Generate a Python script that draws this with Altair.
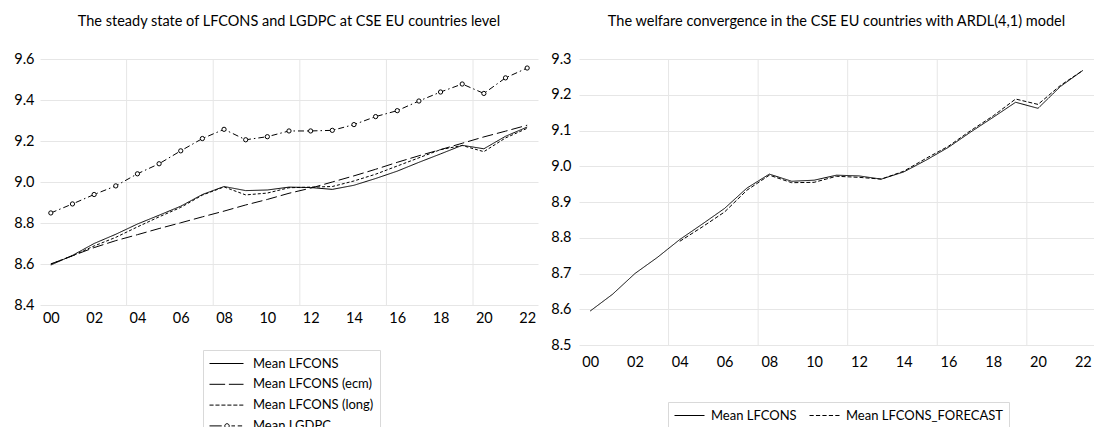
import altair as alt
import pandas as pd

# ---- data -----------------------------------------------------------------
years = list(range(2000, 2023))

mean_lfcons = [8.595, 8.642, 8.700, 8.745, 8.795, 8.838, 8.882, 8.939, 8.978, 8.958,
               8.961, 8.975, 8.973, 8.964, 8.984, 9.017, 9.053, 9.096, 9.137, 9.179,
               9.162, 9.223, 9.268]
mean_lfcons_ecm = [8.600, 8.640, 8.680, 8.714, 8.743, 8.773, 8.801, 8.830, 8.858, 8.888,
                   8.915, 8.945, 8.970, 9.000, 9.030, 9.062, 9.096, 9.128, 9.158, 9.189,
                   9.220, 9.248, 9.277]
mean_lfcons_long = [8.600, 8.640, 8.688, 8.730, 8.781, 8.830, 8.876, 8.936, 8.976, 8.937,
                    8.946, 8.972, 8.975, 8.978, 9.005, 9.038, 9.078, 9.118, 9.158, 9.178,
                    9.148, 9.215, 9.262]
mean_lgdpc = [8.849, 8.893, 8.939, 8.981, 9.040, 9.089, 9.152, 9.212, 9.257, 9.206,
              9.221, 9.249, 9.249, 9.252, 9.280, 9.319, 9.348, 9.395, 9.439, 9.478,
              9.432, 9.508, 9.556]

forecast_years = list(range(2004, 2023))
mean_lfcons_forecast = [8.790, 8.830, 8.872, 8.933, 8.975, 8.954, 8.955, 8.972, 8.969,
                        8.964, 8.986, 9.022, 9.056, 9.100, 9.141, 9.188, 9.173, 9.226,
                        9.268]

left_series = ["Mean LFCONS", "Mean LFCONS (ecm)", "Mean LFCONS (long)", "Mean LGDPC"]
right_series = ["Mean LFCONS", "Mean LFCONS_FORECAST"]

left_ticks = [8.4, 8.6, 8.8, 9.0, 9.2, 9.4, 9.6]
right_ticks = [8.5, 8.6, 8.7, 8.8, 8.9, 9.0, 9.1, 9.2, 9.3]
year_ticks = list(range(2000, 2023, 2))
grid_years = [2003.5, 2007.5, 2011.5, 2015.5, 2019.5]

left_title = "The steady state of LFCONS and LGDPC at CSE EU countries level"
right_title = "The welfare convergence in the CSE EU countries with ARDL(4,1) model"

# ---- styling --------------------------------------------------------------
FONT = "Lato"
GRID = "#e6e6e6"
INK = "#000000"

# dash patterns follow the (alphabetical) order of the series names
left_dashes = [[1, 0], [11, 4], [3, 2], [6, 3, 1.5, 3]]
right_dashes = [[1, 0], [4, 2]]

# legend glyphs drawn as custom symbol paths (unit square, scaled by symbolSize)
left_glyphs = [
    "M-1,0L1,0",
    "M-1,0L-0.08,0M0.14,0L1,0",
    "M-1,0L-0.76,0M-0.65,0L-0.41,0M-0.3,0L-0.06,0M0.05,0L0.29,0M0.4,0L0.64,0M0.75,0L0.99,0",
    "M-1,0L-0.28,0M-0.1,0A0.13,0.13,0,1,1,0.16,0A0.13,0.13,0,1,1,-0.1,0"
    "M0.29,0L0.5,0M0.66,0L0.92,0",
]
right_glyphs = [
    "M-1,0L1,0",
    "M-1,0L-0.72,0M-0.57,0L-0.29,0M-0.14,0L0.14,0M0.29,0L0.57,0M0.72,0L1,0",
]

# ---- tables ---------------------------------------------------------------
left_df = pd.concat(
    [pd.DataFrame({"year": years, "value": vals, "series": name})
     for name, vals in zip(left_series,
                           [mean_lfcons, mean_lfcons_ecm, mean_lfcons_long, mean_lgdpc])],
    ignore_index=True,
)
left_df["key"] = left_df["series"]

right_df = pd.concat(
    [
        pd.DataFrame({"year": years, "level": mean_lfcons, "model": right_series[0]}),
        pd.DataFrame({"year": forecast_years, "level": mean_lfcons_forecast,
                      "model": right_series[1]}),
    ],
    ignore_index=True,
)
right_df["key"] = right_df["model"]
grid_df = pd.DataFrame({"year": grid_years})

year_label = "slice('0' + (datum.value % 100), -2)"


def x_enc(pad):
    return alt.X(
        "year:Q",
        title=None,
        scale=alt.Scale(domain=[1999.5, 2022.5], nice=False, zero=False),
        axis=alt.Axis(values=year_ticks, labelExpr=year_label, grid=False, domain=False,
                      ticks=False, labelPadding=pad, labelFlush=False, labelOverlap=False),
    )


def y_enc(field, lo, hi, ticks, pad):
    return alt.Y(
        f"{field}:Q",
        title=None,
        scale=alt.Scale(domain=[lo, hi], nice=False, zero=False),
        axis=alt.Axis(values=ticks, format=".1f", grid=True, gridColor=GRID, domain=False,
                      ticks=False, labelPadding=pad, labelFlush=False, labelOverlap=False),
    )


def key_legend(x, y, size, **extra):
    return alt.Legend(
        title=None, orient="none", legendX=x, legendY=y,
        symbolSize=size, symbolStrokeWidth=1, symbolStrokeColor=INK,
        symbolFillColor="white", symbolOpacity=1,
        labelFont=FONT, labelFontSize=13, labelColor=INK,
        clipHeight=15, padding=6, strokeColor="#d9d9d9", **extra,
    )


# ---- left panel -----------------------------------------------------------
lx = x_enc(6)
ly = y_enc("value", 8.4, 9.6, left_ticks, 6)

left_grid = alt.Chart(grid_df).mark_rule(color=GRID, strokeWidth=1).encode(x=lx)

left_lines = alt.Chart(left_df).mark_line(color=INK, strokeWidth=1).encode(
    x=lx,
    y=ly,
    strokeDash=alt.StrokeDash("series:N", scale=alt.Scale(range=left_dashes), legend=None),
)

left_points = (
    alt.Chart(left_df)
    .transform_filter(alt.datum.series == "Mean LGDPC")
    .mark_point(shape="circle", filled=False, fill="white", fillOpacity=1, stroke=INK,
                strokeWidth=1, size=18, opacity=1)
    .encode(x=lx, y=ly)
)

# invisible points that only carry the series key
left_key = alt.Chart(left_df).mark_point(
    filled=False, color=INK, strokeWidth=1, opacity=0
).encode(
    x=lx,
    y=ly,
    shape=alt.Shape(
        "key:N",
        scale=alt.Scale(domain=left_series, range=left_glyphs),
        legend=key_legend(163, 291, 1156, direction="vertical", labelOffset=9,
                          rowPadding=5.8),
    ),
)

left = alt.layer(left_grid, left_lines, left_points, left_key).properties(
    width=498,
    height=246,
    title=alt.TitleParams(left_title, font=FONT, fontSize=14.5, fontWeight="normal",
                          color=INK, anchor="middle", offset=22),
)

# ---- right panel ----------------------------------------------------------
rx = x_enc(10)
ry = y_enc("level", 8.5, 9.3, right_ticks, 8)

right_grid = alt.Chart(grid_df).mark_rule(color=GRID, strokeWidth=1).encode(x=rx)

right_lines = alt.Chart(right_df).mark_line(color=INK, strokeWidth=1).encode(
    x=rx,
    y=ry,
    strokeDash=alt.StrokeDash("model:N", scale=alt.Scale(range=right_dashes), legend=None),
)

right_key = alt.Chart(right_df).mark_point(
    filled=False, color=INK, strokeWidth=1, opacity=0
).encode(
    x=rx,
    y=ry,
    shape=alt.Shape(
        "key:N",
        scale=alt.Scale(domain=right_series, range=right_glyphs),
        legend=key_legend(89, 343, 900, direction="horizontal", labelOffset=6,
                          columnPadding=12),
    ),
)

right = alt.layer(right_grid, right_lines, right_key).properties(
    width=515,
    height=286,
    title=alt.TitleParams(right_title, font=FONT, fontSize=14.5, fontWeight="normal",
                          color=INK, anchor="middle", offset=22),
)

chart = (
    alt.hconcat(left, right, spacing=12)
    .resolve_scale(x="independent", y="independent", shape="independent",
                   strokeDash="independent")
    .properties(padding={"left": 13, "top": 13, "right": 0, "bottom": 0})
    .configure_view(stroke=None)
    .configure_axis(labelFont=FONT, labelFontSize=14.5, labelColor=INK)
)

chart.save("out.html", embed_options={"renderer": "svg", "actions": False})
